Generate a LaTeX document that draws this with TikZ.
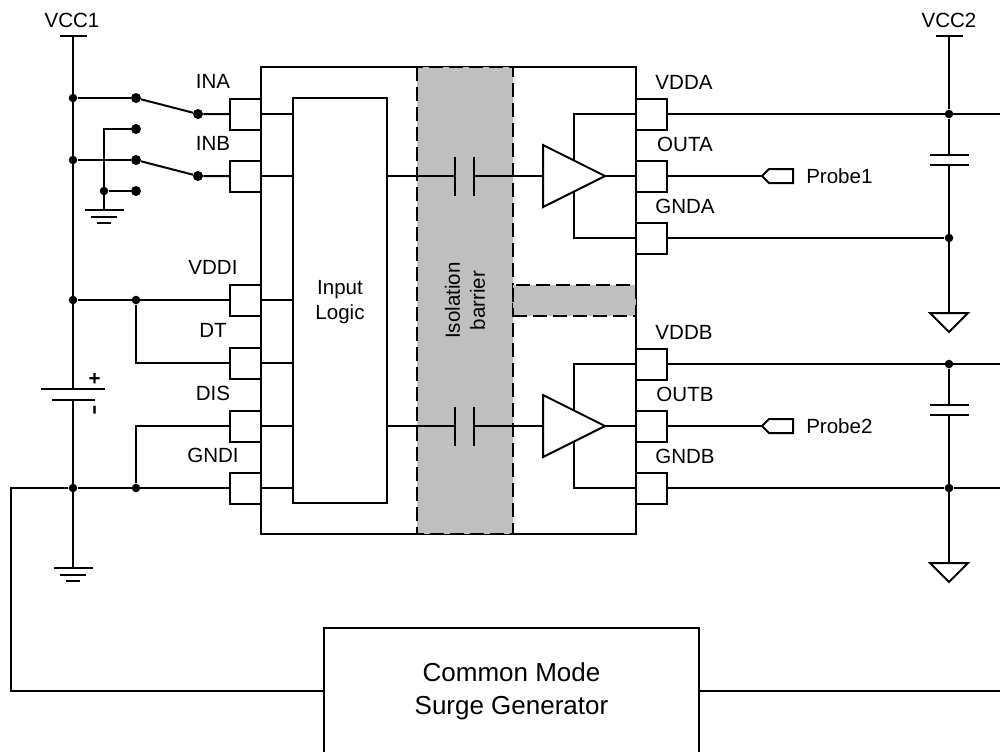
\documentclass[tikz,border=0pt]{standalone}
\usepackage{fontspec}
\setmainfont{Liberation Sans}
\tikzset{
  wire/.style={line width=1.2pt},
  thinwire/.style={line width=0.8pt},
  heavy/.style={line width=1.5pt},
  outline/.style={draw,line width=1.5pt,inner sep=0,outer sep=0},
  pinbox/.style={outline,minimum size=23.25pt},
  barrierbox/.style={draw,fill=barriergray,line width=1.5pt,dash pattern=on 10.5pt off 4.5pt,inner sep=0,outer sep=0},
  junction/.style={circle,fill=black,inner sep=0,minimum size=6.4pt},
  contact/.style={circle,fill=black,inner sep=0,minimum size=7.5pt},
  txt/.style={font=\fontsize{15.4}{18.75}\selectfont,inner sep=0,align=center}
}
\definecolor{barriergray}{RGB}{191,191,191}
\begin{document}
\begin{tikzpicture}[x=0.75pt,y=-0.75pt]
  % Boundary
  \path[use as bounding box] (0,0) rectangle (1000,751);
  % Device
  \node[outline,minimum width=281.25pt,minimum height=350.25pt] (chip) at (448.5,300.5) {};
  \node[barrierbox,txt,rotate=90,minimum width=350.25pt,minimum height=72pt] (barrier) at (465,300.5) {Isolation\\barrier};
  \node[barrierbox,minimum width=92.25pt,minimum height=23.25pt] (band) at (574.5,300.5) {};
  \node[outline,minimum width=70.5pt,minimum height=303.75pt] (logic) at (340,300.5) {};
  \node[txt] (logiclab) at (340,302) {Input\\Logic};
  % Input pins
  \foreach \nm/\lab/\y in {ina/INA/114,inb/INB/176,vddi/VDDI/300,dt/DT/363,dis/DIS/426,gndi/GNDI/488} {
    \node[pinbox] (\nm) at (245.5,\y) {};
    \node[txt] (\nm lab) at (213,\y-33) {\lab};
    \draw[thinwire] (\nm.east) -- (\nm.east -| logic.west);
  }
  % Output channels
  \foreach \ch/\dy/\num in {a/0/1,b/250/2} {
    \begin{scope}[shift={(0,\dy)}]
      \node[pinbox] (vdd\ch) at (651.5,114) {};
      \node[pinbox] (out\ch) at (651.5,176) {};
      \node[pinbox] (gnd\ch) at (651.5,238) {};
      \coordinate (capl\ch) at (455,176);
      \coordinate (capr\ch) at (474,176);
      \coordinate (ampin\ch) at (543,176);
      \coordinate (ampout\ch) at (605,176);
      \coordinate (rail\ch) at (574,114);
      \coordinate (ret\ch) at (574,238);
      \coordinate (probe\ch) at (762,176);
      \coordinate (plateu\ch) at (949,155);
      \coordinate (plated\ch) at (949,165);
      \coordinate (earth\ch) at (949,313);
      \coordinate (edge\ch) at (1000,238);
      \node[junction] (jvdd\ch) at (949,114) {};
      \node[junction] (jgnd\ch) at (949,238) {};
      \node[txt] (vdd\ch lab) at (684,82) {VDD\MakeUppercase{\ch}};
      \node[txt] (out\ch lab) at (685,144) {OUT\MakeUppercase{\ch}};
      \node[txt] (gnd\ch lab) at (685,206) {GND\MakeUppercase{\ch}};
      \node[txt,anchor=west] (probe\ch lab) at (806,176) {Probe\num};
      % Coupling capacitor
      \draw[wire] (capl\ch -| logic.east) -- (capl\ch);
      \draw[wire] (capr\ch) -- (ampin\ch);
      \draw[heavy] (capl\ch) ++(0,-19.5) -- ++(0,39);
      \draw[heavy] (capr\ch) ++(0,-19.5) -- ++(0,39);
      % Driver
      \draw[wire] (vdd\ch.west) -- (rail\ch) -- (ret\ch) -- (gnd\ch.west);
      \draw[wire] (ampout\ch) -- (out\ch.west);
      \draw[heavy,fill=white] (ampin\ch) ++(0,-31) -- ++(0,62) -- (ampout\ch) -- cycle;
      % Load side
      \draw[wire] (vdd\ch.east) -- (1000,114);
      \draw[wire] (out\ch.east) -- (probe\ch);
      \draw[wire] (gnd\ch.east) -- (jgnd\ch);
      \draw[heavy] (probe\ch) -- ++(7,-7) -- ++(24,0) -- ++(0,14) -- ++(-24,0) -- cycle;
      \draw[wire] (jvdd\ch) -- (plateu\ch);
      \draw[wire] (plated\ch) -- (earth\ch);
      \draw[heavy] (plateu\ch) ++(-19.5,0) -- ++(39,0);
      \draw[heavy] (plated\ch) ++(-19.5,0) -- ++(39,0);
      \draw[heavy] (earth\ch) ++(-19,0) -- ++(38,0) -- ++(-19,19) -- cycle;
    \end{scope}
  }
  % Supply 2
  \coordinate (vcc2) at (949,36);
  \node[txt] (vcc2lab) at (949,20) {VCC2};
  \draw[heavy] (vcc2) ++(-13.5,0) -- ++(27,0);
  \draw[wire] (vcc2) -- (jvdda);
  \draw[wire] (jgndb) -- (edgeb);
  % Supply 1
  \coordinate (vcc1) at (73,36);
  \coordinate (batp) at (73,389);
  \coordinate (batn) at (73,400);
  \coordinate (earth1) at (73,568);
  \node[txt] (vcc1lab) at (72,20) {VCC1};
  \node[junction] (ja) at (73,98) {};
  \node[junction] (jb) at (73,160) {};
  \node[junction] (jc) at (73,300) {};
  \node[junction] (jd) at (73,488) {};
  \node[junction] (je) at (136,300) {};
  \node[junction] (jf) at (136,488) {};
  \draw[heavy] (vcc1) ++(-13.5,0) -- ++(27,0);
  \draw[wire] (vcc1) -- (batp);
  \draw[wire] (batn) -- (earth1);
  \draw[heavy] (batp) ++(-32,0) -- ++(64,0);
  \draw[heavy] (batn) ++(-21,0) -- ++(43,0);
  \node[txt,font=\fontsize{15.4}{18}\bfseries] (batplus) at (94.5,379) {+};
  \node[txt,font=\fontsize{24}{24}\selectfont,rotate=90] (batminus) at (98.5,410) {-};
  % Switches
  \node[contact] (swa) at (136,98) {};
  \node[contact] (swb) at (136,160) {};
  \node[contact] (swc) at (136,129) {};
  \node[contact] (swd) at (136,191) {};
  \node[contact] (swe) at (198,114) {};
  \node[contact] (swf) at (198,176) {};
  \node[junction] (jg) at (104,191) {};
  \coordinate (earth2) at (104,210);
  \draw[wire] (ja) -- (swa);
  \draw[wire] (jb) -- (swb);
  \draw[heavy] (swa) -- (swe) -- (ina.west);
  \draw[heavy] (swb) -- (swf) -- (inb.west);
  \draw[wire] (swc) -| (earth2);
  \draw[wire] (jg) -- (swd);
  % Ground symbols
  \foreach \e in {earth1,earth2} {
    \draw[heavy] (\e) ++(-19.5,0) -- ++(39,0);
    \draw[heavy] (\e) ++(-13,7) -- ++(26,0);
    \draw[heavy] (\e) ++(-7,13) -- ++(14,0);
  }
  % Pin wiring
  \draw[wire] (jc) -- (vddi.west);
  \draw[wire] (je) |- (dt.west);
  \draw[wire] (jd) -- (gndi.west);
  \draw[wire] (jf) |- (dis.west);
  % Surge generator, cut off by the page
  \node[outline,minimum width=281.25pt,minimum height=118.5pt] (surge) at (511.5,707) {};
  \node[txt,font=\fontsize{19.5}{24.75}\selectfont] (surgelab) at (511.5,691) {Common Mode\\Surge Generator};
  \draw[wire] (jd) -- (11,488) |- (surgelab -| surge.west);
  \draw[wire] (surgelab -| surge.east) -- (1000,691);
\end{tikzpicture}
\end{document}
